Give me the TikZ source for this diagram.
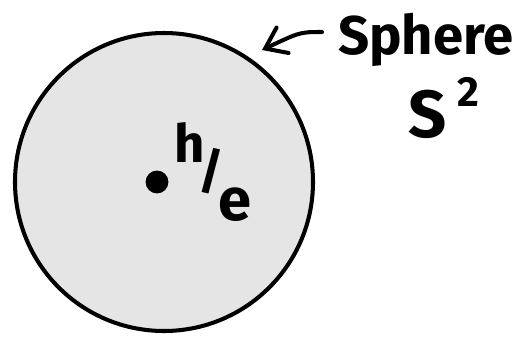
\documentclass[tikz,border=0pt]{standalone}
\usepackage{fontspec}
\setsansfont{Fira Sans}
\usetikzlibrary{arrows.meta}

\begin{document}
\begin{tikzpicture}[x=0.02cm, y=-0.02cm, line width=2.3pt, line cap=round,
        hand/.style={font=\sffamily\bfseries\fontsize{#1}{#1}\selectfont, inner sep=0pt}]
        \useasboundingbox (0,0) rectangle (529,336);
        % the sphere
        \draw[fill=gray!20] (164,182) circle (149);
        \node[circle, fill=black, inner sep=0pt, minimum size=13pt] (dot) at (157,182) {};
        
        % labels
        \node[hand=30] (h) at (190,143) {h};
        \node[hand=28] (slash) at (211,171) {/};
        \node[hand=34] (e) at (235,205) {e};
        \node[hand=31, anchor=west] (sphere) at (336,40) {Sphere};
        \node[hand=38] (stwo) at (428,114) {S};
        \node[hand=24] (two) at (468,92) {2};
        
        % arrow to the sphere
        \coordinate (tip) at (262,50);
        \draw[-{Straight Barb[length=11pt, width=16pt, line cap=round]}] (sphere.west) ++(-14,-8) .. controls (300,32) .. (tip);
    \end{tikzpicture}
\end{document}
